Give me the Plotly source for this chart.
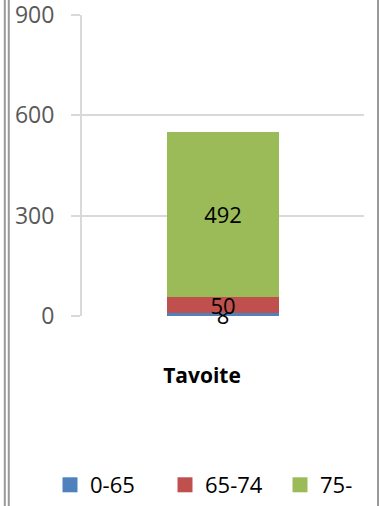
import plotly.graph_objects as go

categories = ["Tavoite"]
series_names = ["0-65", "65-74", "75-"]
values_0_65 = [8]
values_65_74 = [50]
values_75 = [492]
tick_vals = [0, 300, 600, 900]
tick_text = ["0", "300", "600", "900"]
colors = ["#4F81BD", "#C0504D", "#9BBB59"]

W, H = 379, 506
ML, MR, MT, MB = 82, 15, 15, 190
PW, PH = W - ML - MR, H - MT - MB
FONT = "Open Sans"

def px_x(px):
    return (px - ML) / PW

def px_y(py):
    return (H - MB - py) / PH

fig = go.Figure()
for name, vals, col in zip(series_names, [values_0_65, values_65_74, values_75], colors):
    fig.add_trace(go.Bar(
        x=categories, y=vals, name=name, marker_color=col,
        marker_line_width=0, showlegend=False, legendgroup=name,
        text=[str(v) for v in vals], textposition="inside", textangle=0,
        insidetextanchor="middle", constraintext="none",
        textfont=dict(family=FONT, size=22, color="#000000"),
        cliponaxis=False,
    ))
# legend entries (square keys like the original)
for name, col in zip(series_names, colors):
    fig.add_trace(go.Scatter(
        x=[None], y=[None], mode="markers", name=name, legendgroup=name,
        marker=dict(symbol="square", size=15, color=col),
        showlegend=True,
    ))

fig.update_layout(
    width=W, height=H,
    margin=dict(l=ML, r=MR, t=MT, b=MB, autoexpand=False),
    barmode="stack", bargap=0.6,
    plot_bgcolor="white", paper_bgcolor="white",
    font=dict(family=FONT, size=22, color="#000000"),
    showlegend=True,
    legend=dict(orientation="h", x=px_x(50), xanchor="left",
                y=px_y(485), yanchor="middle",
                font=dict(family=FONT, size=22, color="#000000"),
                traceorder="normal", itemwidth=30, entrywidth=70,
                bgcolor="rgba(0,0,0,0)"),
)
fig.update_yaxes(range=[0, 900], tickvals=tick_vals, ticktext=tick_text,
                 showgrid=True, gridcolor="#D9D9D9", gridwidth=2,
                 showline=True, linecolor="#D9D9D9", linewidth=2,
                 ticks="outside", ticklen=9, tickwidth=2, tickcolor="#D9D9D9",
                 ticklabelstandoff=12, ticklabeloverflow="allow",
                 tickfont=dict(family=FONT, size=23, color="#595959"),
                 zeroline=False, fixedrange=True)
fig.update_xaxes(showgrid=False, showline=False, ticks="", zeroline=False,
                 tickfont=dict(family=FONT, size=21, color="#000000"),
                 tickprefix="<b>", ticksuffix="</b>",
                 ticklabelstandoff=45, ticklabelshift=-21,
                 ticklabeloverflow="allow", fixedrange=True)

# frame lines of the surrounding document
for xp in [4.8, 8.8, 378]:
    fig.add_shape(type="line", xref="paper", yref="paper",
                  x0=px_x(xp), x1=px_x(xp), y0=px_y(0), y1=px_y(H),
                  line=dict(color="#9a9a9a", width=2), layer="above")

fig.write_html("out.html", config={"displayModeBar": False, "staticPlot": True},
               post_script="document.body.style.margin='0';")
